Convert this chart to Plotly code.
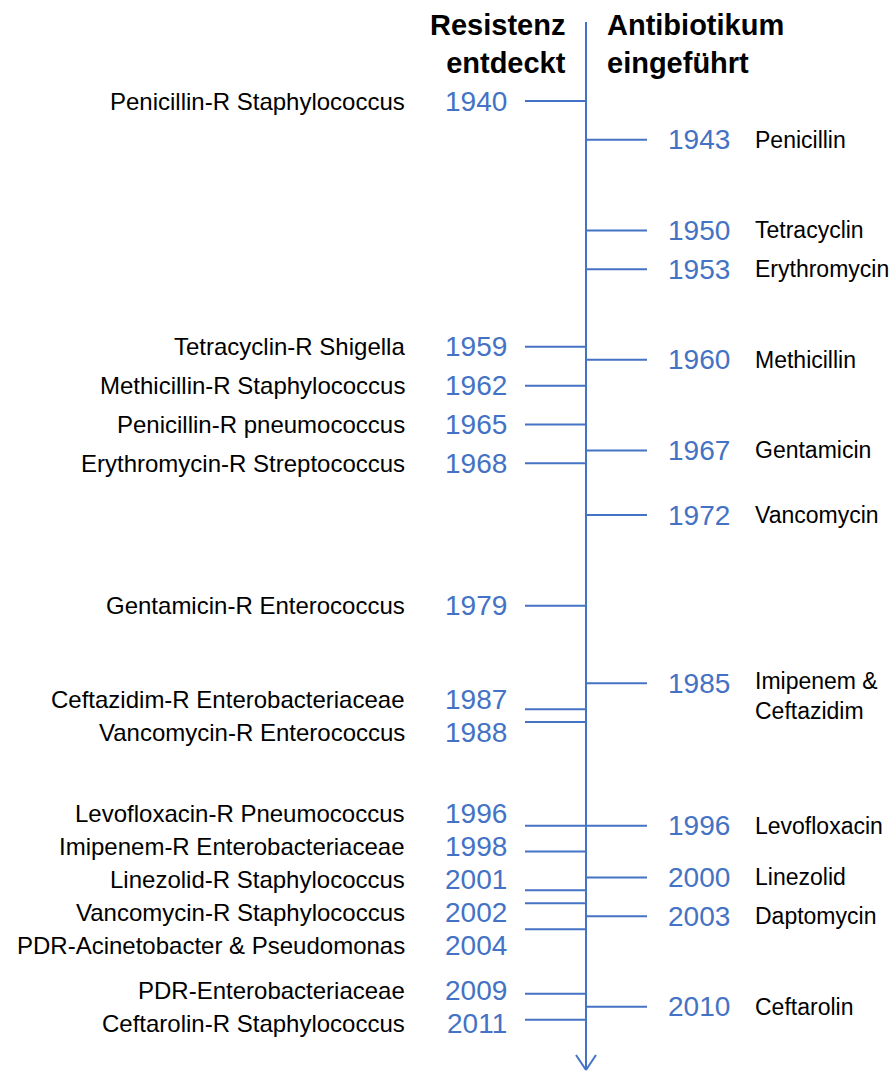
import plotly.graph_objects as go

# ---- data ----
res_years = [1940, 1959, 1962, 1965, 1968, 1979, 1987, 1988, 1996, 1998, 2001, 2002, 2004, 2009, 2011]
res_labels = [
    "Penicillin-R Staphylococcus", "Tetracyclin-R Shigella", "Methicillin-R Staphylococcus",
    "Penicillin-R pneumococcus", "Erythromycin-R Streptococcus", "Gentamicin-R Enterococcus",
    "Ceftazidim-R Enterobacteriaceae", "Vancomycin-R Enterococcus", "Levofloxacin-R Pneumococcus",
    "Imipenem-R Enterobacteriaceae", "Linezolid-R Staphylococcus", "Vancomycin-R Staphylococcus",
    "PDR-Acinetobacter & Pseudomonas", "PDR-Enterobacteriaceae", "Ceftarolin-R Staphylococcus",
]
ab_years = [1943, 1950, 1953, 1960, 1967, 1972, 1985, 1996, 2000, 2003, 2010]
ab_labels = [
    "Penicillin", "Tetracyclin", "Erythromycin", "Methicillin", "Gentamicin", "Vancomycin",
    "Imipenem &<br>Ceftazidim", "Levofloxacin", "Linezolid", "Daptomycin", "Ceftarolin",
]
header_left = "Resistenz<br>entdeckt"
header_right = "Antibiotikum<br>eingeführt"

BLUE = "#4472C4"
FONT = "Liberation Sans, Arial, sans-serif"
W, H = 896, 1073
AXIS_X = 586
YEAR_SIZE = 28

# linear year scale: pixel y ~ 101 + 12.94*(year-1940)
px_per_year = 12.94
y_top = 1940 - 101 / px_per_year
y_bot = 1940 + (H - 101) / px_per_year


def label_shifts(years, gap):
    """Vertical pixel nudges so adjacent labels don't collide (ticks stay on the data)."""
    orig = [(y - y_top) * px_per_year for y in years]
    p = list(orig)
    for _ in range(500):
        moved = False
        for i in range(1, len(p)):
            d = p[i] - p[i - 1]
            if d < gap - 1e-6:
                m = (gap - d) / 2
                p[i - 1] -= m
                p[i] += m
                moved = True
        if not moved:
            break
    return [-(a - b) for a, b in zip(p, orig)]  # plotly yshift: positive = up


fig = go.Figure()

# tick lines
lx, ly = [], []
for y in res_years:
    lx += [525, AXIS_X, None]
    ly += [y, y, None]
rx, ry = [], []
for y in ab_years:
    rx += [AXIS_X, 647, None]
    ry += [y, y, None]
fig.add_trace(go.Scatter(x=lx, y=ly, mode="lines", line=dict(color=BLUE, width=2),
                         hoverinfo="skip", showlegend=False))
fig.add_trace(go.Scatter(x=rx, y=ry, mode="lines", line=dict(color=BLUE, width=2),
                         hoverinfo="skip", showlegend=False))

ann = []
for y, lab, s in zip(res_years, res_labels, label_shifts(res_years, 33.0)):
    ann.append(dict(x=508, y=y, xref="x", yref="y", text=str(y), showarrow=False, yshift=s,
                    borderpad=0, xanchor="right", yanchor="middle",
                    font=dict(family=FONT, size=YEAR_SIZE, color=BLUE)))
    ann.append(dict(x=406, y=y, xref="x", yref="y", text=lab, showarrow=False, yshift=s,
                    borderpad=0, xanchor="right", yanchor="middle",
                    font=dict(family=FONT, size=24, color="black")))
for y, lab in zip(ab_years, ab_labels):
    ann.append(dict(x=667, y=y, xref="x", yref="y", text=str(y), showarrow=False,
                    borderpad=0, xanchor="left", yanchor="middle",
                    font=dict(family=FONT, size=YEAR_SIZE, color=BLUE)))
    multi = "<br>" in lab
    ann.append(dict(x=754, y=y, xref="x", yref="y", text=lab, showarrow=False,
                    borderpad=0, xanchor="left", yanchor="top" if multi else "middle",
                    yshift=16 if multi else 0, align="left",
                    font=dict(family=FONT, size=23, color="black")))

# headers
ann.append(dict(x=568, y=1 - 7 / H, xref="x", yref="paper", text="<b>" + header_left + "</b>",
                showarrow=False, xanchor="right", yanchor="top", align="right",
                font=dict(family=FONT, size=29, color="black")))
ann.append(dict(x=605, y=1 - 7 / H, xref="x", yref="paper", text="<b>" + header_right + "</b>",
                showarrow=False, xanchor="left", yanchor="top", align="left",
                font=dict(family=FONT, size=29, color="black")))

shapes = [
    dict(type="line", xref="x", yref="paper", x0=AXIS_X, x1=AXIS_X,
         y0=1 - 22 / H, y1=1 - 1070 / H, line=dict(color=BLUE, width=2)),
    dict(type="line", xref="x", yref="paper", x0=576, x1=AXIS_X,
         y0=1 - 1055 / H, y1=1 - 1070 / H, line=dict(color=BLUE, width=2)),
    dict(type="line", xref="x", yref="paper", x0=596, x1=AXIS_X,
         y0=1 - 1055 / H, y1=1 - 1070 / H, line=dict(color=BLUE, width=2)),
]

fig.update_layout(
    width=W, height=H, margin=dict(l=0, r=0, t=0, b=0),
    paper_bgcolor="white", plot_bgcolor="white",
    xaxis=dict(range=[0, W], visible=False, fixedrange=True),
    yaxis=dict(range=[y_bot, y_top], visible=False, fixedrange=True),
    annotations=ann, shapes=shapes, showlegend=False,
)

fig.write_html("out.html", config={"displayModeBar": False},
               post_script="document.body.style.margin='0';")
